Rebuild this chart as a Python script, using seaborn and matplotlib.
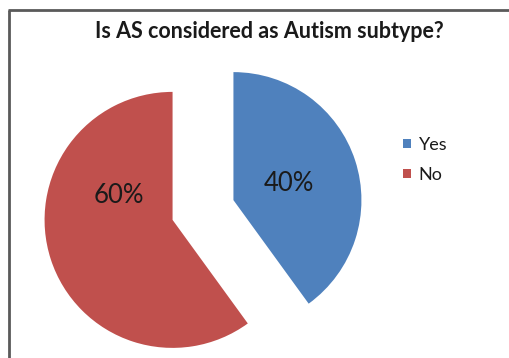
import math
import matplotlib
matplotlib.use("Agg")
import matplotlib.pyplot as plt
import seaborn as sns

# Survey answers
categories = ["Yes", "No"]
shares = [40, 60]
title = "Is AS considered as Autism subtype?"

sns.set_theme(style="white")
plt.rcParams["font.family"] = ["Lato", "DejaVu Sans"]
colors = ["#4F81BD", "#C0504D"]

# where each percentage sits inside its wedge (angle in degrees, fraction of radius)
label_angle = [17, 155]
label_dist = [0.45, 0.46]

W, H = 510, 358
fig = plt.figure(figsize=(W / 100, H / 100), dpi=100)
ax = fig.add_axes([0, 0, 1, 1])

wedges, _, autotexts = ax.pie(
    shares,
    colors=colors,
    startangle=90,
    counterclock=False,
    center=(203, H - 210),
    radius=128,
    explode=[32, 32],
    autopct="%d%%",
    textprops=dict(fontsize=18.5, color="#1a1a1a"),
    wedgeprops=dict(linewidth=0),
)
for w, t, a, d in zip(wedges, autotexts, label_angle, label_dist):
    cx, cy = w.center
    t.set_position((cx + d * w.r * math.cos(math.radians(a)),
                    cy + d * w.r * math.sin(math.radians(a))))

ax.set_xlim(0, W)
ax.set_ylim(0, H)
ax.set_aspect("equal")
ax.axis("off")

# chart frame
ax.plot([9, 9], [-5, H - 10], color="#5a5a5a", lw=2, solid_capstyle="butt", clip_on=False)
ax.plot([8, W + 5], [H - 10, H - 10], color="#5a5a5a", lw=2, solid_capstyle="butt", clip_on=False)

ax.text(269, H - 31, title, ha="center", va="center", fontsize=15.5,
        fontweight="bold", color="#1a1a1a")

leg = ax.legend(
    wedges, categories,
    loc="upper left", bbox_to_anchor=(403 / W, 1 - 137 / H),
    frameon=False, fontsize=13, handlelength=0.42, handleheight=0.42,
    handletextpad=0.45, labelspacing=0.78, borderaxespad=0, borderpad=0,
)
for t in leg.get_texts():
    t.set_color("#1a1a1a")

fig.savefig("out.png", dpi=100)
